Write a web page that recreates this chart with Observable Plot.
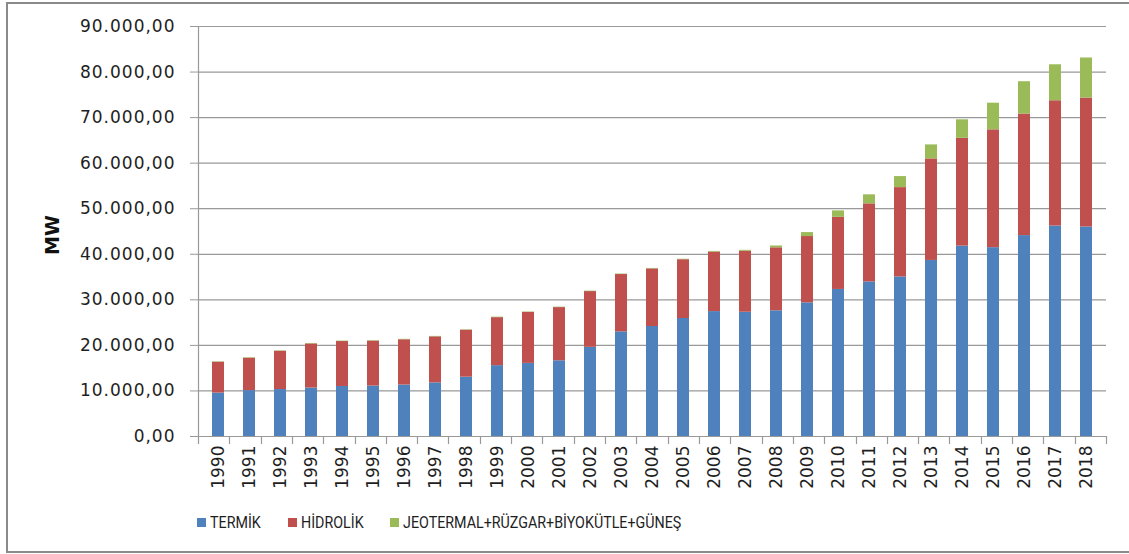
<!DOCTYPE html>
<html>
<head>
<meta charset="utf-8">
<script src="https://cdn.jsdelivr.net/npm/d3@7"></script>
<script src="https://cdn.jsdelivr.net/npm/@observablehq/plot@0.6"></script>
<style>
  html, body { margin: 0; padding: 0; background: #fff; width: 1129px; height: 554px; overflow: hidden; }
  #border { position: absolute; left: 6px; top: 2px; width: 1140px; height: 551px; border: 2px solid #8a8a8a; box-sizing: border-box; }
  #chart { position: absolute; left: 0; top: 0; }
  #chart svg { color: #1e1e1e; }
  #chart g[aria-label="y-axis tick label"] { font-family: "DejaVu Sans", sans-serif; font-size: 17px; letter-spacing: 1px; }
  #chart g[aria-label="x-axis tick label"] { font-family: "DejaVu Sans", sans-serif; font-size: 17px; }
  #ytitle { position: absolute; left: 52px; top: 235px; transform: translate(-50%, -50%) rotate(-90deg); font-family: "DejaVu Sans", sans-serif; font-weight: bold; font-size: 19px; color: #111; white-space: nowrap; }
  .leg { position: absolute; top: 512px; height: 20px; display: flex; align-items: center; font-family: Roboto, sans-serif; font-size: 17px; color: #1e1e1e; white-space: nowrap; }
  .sw { width: 9px; height: 9px; margin-right: 4px; flex: none; }
  .lt { display: inline-block; transform: scaleX(0.84); transform-origin: left center; }
</style>
</head>
<body>
<div id="border"></div>
<div id="chart"></div>
<div id="ytitle"></div>
<div id="legend"></div>
<script>
const years = ["1990","1991","1992","1993","1994","1995","1996","1997","1998","1999",
  "2000","2001","2002","2003","2004","2005","2006","2007","2008","2009",
  "2010","2011","2012","2013","2014","2015","2016","2017","2018"];
const termik = [9536, 10078, 10320, 10638, 10978, 11074, 11297, 11772, 13021, 15556,
  16053, 16623, 19569, 22974, 24145, 25902, 27420, 27272, 27595, 29339,
  32279, 33931, 35027, 38648, 41802, 41450, 44100, 46200, 46000];
const hidrolik = [6764, 7114, 8379, 9682, 9865, 9863, 9935, 10103, 10307, 10537,
  11175, 11673, 12241, 12579, 12645, 12906, 13063, 13395, 13829, 14553,
  15831, 17137, 19609, 22289, 23643, 25868, 26681, 27500, 28291];
const diger = [100, 100, 100, 100, 100, 100, 100, 100, 100, 100,
  100, 100, 100, 100, 100, 100, 150, 200, 400, 870,
  1414, 1980, 2422, 3071, 4075, 5850, 7100, 7900, 8800];
const seriesNames = ["TERMİK", "HİDROLİK", "JEOTERMAL+RÜZGAR+BİYOKÜTLE+GÜNEŞ"];
const seriesColors = ["#4F81BD", "#C0504D", "#9BBB59"];
const yTicks = [0, 10000, 20000, 30000, 40000, 50000, 60000, 70000, 80000, 90000];
const yTitle = "MW";

const seriesValues = [termik, hidrolik, diger];
const rows = [];
years.forEach((yr, i) => {
  seriesNames.forEach((s, k) => rows.push({year: yr, type: s, value: seriesValues[k][i]}));
});

const fmt = d3.formatLocale({decimal: ",", thousands: ".", grouping: [3], currency: ["", ""]}).format(",.2f");
const axisColor = "#999999";

function excelAxes(index, scales, values, dimensions) {
  const {width, height, marginLeft, marginRight, marginTop, marginBottom} = dimensions;
  const x0 = marginLeft, x1 = width - marginRight, yb = height - marginBottom;
  const g = d3.create("svg:g").attr("stroke", axisColor).attr("stroke-width", 1.2);
  g.append("line").attr("x1", x0 + 0.5).attr("x2", x0 + 0.5).attr("y1", marginTop).attr("y2", yb);
  g.append("line").attr("x1", x0).attr("x2", x1).attr("y1", yb + 0.5).attr("y2", yb + 0.5);
  const step = (x1 - x0) / years.length;
  for (let i = 0; i <= years.length; i++) {
    const xx = Math.round(x0 + i * step) + 0.5;
    g.append("line").attr("x1", xx).attr("x2", xx).attr("y1", yb).attr("y2", yb + 8);
  }
  return g.node();
}

const plot = Plot.plot({
  width: 1129,
  height: 500,
  marginLeft: 198,
  marginRight: 23,
  marginTop: 26,
  marginBottom: 64,
  x: {type: "band", domain: years, paddingInner: 0.6, paddingOuter: 0.3},
  y: {domain: [0, 90000]},
  color: {domain: seriesNames, range: seriesColors},
  marks: [
    Plot.gridY(yTicks, {stroke: axisColor, strokeOpacity: 1, strokeWidth: 1.2}),
    Plot.barY(rows, {x: "year", y: "value", fill: "type"}),
    Plot.axisY(yTicks, {tickSize: 8, tickPadding: 15, tickFormat: fmt, stroke: axisColor, label: null}),
    Plot.axisX({tickSize: 0, tickPadding: 9, tickRotate: -90, label: null}),
    excelAxes
  ]
});
document.getElementById("chart").appendChild(plot);
document.getElementById("ytitle").textContent = yTitle;

const legendLeft = [197, 288, 390];
const legend = document.getElementById("legend");
seriesNames.forEach((s, k) => {
  const item = document.createElement("div");
  item.className = "leg";
  item.style.left = legendLeft[k] + "px";
  const sw = document.createElement("span");
  sw.className = "sw";
  sw.style.background = seriesColors[k];
  const t = document.createElement("span");
  t.className = "lt";
  t.textContent = s;
  item.appendChild(sw);
  item.appendChild(t);
  legend.appendChild(item);
});
</script>
</body>
</html>
